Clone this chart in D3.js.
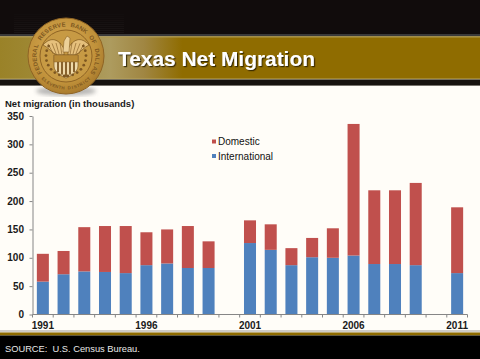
<!DOCTYPE html>
<html>
<head>
<meta charset="utf-8">
<script src="https://cdn.jsdelivr.net/npm/d3@7"></script>
<style>
  html, body { margin: 0; padding: 0; background: #fffdf8; }
  svg { display: block; }
  text { font-family: "Liberation Sans", Arial, sans-serif; }
</style>
</head>
<body>
<div id="chart"></div>
<script>
// Values, thousands of people
const years = d3.range(1991, 2012);
const international = [58, 71, 76, 75, 73, 87, 90, 82, 82, null, 126, 114, 87, 101, 100, 104, 89, 89, 87, null, 73];
const domestic = [49, 41, 78, 81, 83, 58, 60, 74, 47, null, 40, 45, 30, 34, 52, 232, 130, 130, 145, null, 116];
const yTicks = [0, 50, 100, 150, 200, 250, 300, 350];
const xLabels = [1991, 1996, 2001, 2006, 2011];
const seriesNames = ["Domestic", "International"];
const seriesColors = ["#c0504d", "#4f81bd"];
const sealTop = "FEDERAL RESERVE BANK OF DALLAS";
const sealBottom = "ELEVENTH DISTRICT";

const width = 480, height = 359;
const margin = { top: 116, right: 12.5, bottom: 44.5, left: 32.5 };

const svg = d3.select("#chart").append("svg")
  .attr("width", width)
  .attr("height", height);

const defs = svg.append("defs");

// Gold band fades lighter behind the seal
const bandGrad = defs.append("linearGradient").attr("id", "bandGrad");
[[0, "#9a8228"], [0.1, "#a08a38"], [0.23, "#ad9b5e"], [0.3, "#a08642"], [0.38, "#8f6c00"], [1, "#8f6c00"]].forEach(s =>
  bandGrad.append("stop").attr("offset", s[0]).attr("stop-color", s[1]));

const sealGrad = defs.append("radialGradient").attr("id", "sealGrad")
  .attr("cx", "45%").attr("cy", "40%").attr("r", "70%");
[[0, "#d9ab55"], [0.65, "#c0913a"], [1, "#9a6c24"]].forEach(s =>
  sealGrad.append("stop").attr("offset", s[0]).attr("stop-color", s[1]));

const shadow = defs.append("filter").attr("id", "titleShadow")
  .attr("x", "-5%").attr("y", "-20%").attr("width", "110%").attr("height", "140%");
shadow.append("feDropShadow").attr("dx", 1.2).attr("dy", 1.2).attr("stdDeviation", 0.7)
  .attr("flood-color", "#2a2000").attr("flood-opacity", 0.85);

const sealBlur = defs.append("filter").attr("id", "sealBlur");
sealBlur.append("feGaussianBlur").attr("stdDeviation", 2);

const soft = defs.append("filter").attr("id", "soft");
soft.append("feGaussianBlur").attr("stdDeviation", 0.35);

// Page furniture
const header = svg.append("g");
header.append("rect").attr("width", width).attr("height", 34).attr("fill", "#110c0c");
header.selectAll(".stripe").data(d3.range(12, 34, 2)).enter().append("rect")
  .attr("x", 14).attr("y", d => d).attr("width", 110).attr("height", 1)
  .attr("fill", "#2a2626").attr("opacity", d => (d - 10) / 60);
header.append("rect").attr("y", 34).attr("width", width).attr("height", 2.5).attr("fill", "#3a3a3a");
header.append("rect").attr("y", 36.5).attr("width", width).attr("height", 42.5).attr("fill", "url(#bandGrad)");
header.append("rect").attr("y", 36.5).attr("width", width).attr("height", 1).attr("fill", "#b09a4c");
header.append("rect").attr("y", 78.5).attr("width", width).attr("height", 1).attr("fill", "#b8a460");
header.append("rect").attr("y", 79.5).attr("width", width).attr("height", 5.5).attr("fill", "#17130f");
header.append("rect").attr("y", 85).attr("width", width).attr("height", 1).attr("fill", "#77736c");

// Seal
const seal = svg.append("g").attr("transform", "translate(66,56)");
seal.append("ellipse").attr("cy", 35).attr("rx", 30).attr("ry", 5)
  .attr("fill", "#888").attr("opacity", 0.6).attr("filter", "url(#sealBlur)");
seal.append("circle").attr("r", 38).attr("fill", "url(#sealGrad)").attr("stroke", "#8f6424");
seal.append("circle").attr("r", 26).attr("fill", "#c79a44").attr("stroke", "#8f6424").attr("stroke-width", 1);

// Lettering round the rim, one glyph at a time
const topChars = sealTop.split("");
const bottomChars = sealBottom.split("");
const rim = seal.append("g").attr("font-size", 6).attr("fill", "#7d5720").attr("font-weight", "bold");
rim.selectAll(".top").data(topChars).enter().append("text")
  .attr("text-anchor", "middle")
  .attr("transform", (d, i) => `rotate(${(i - (topChars.length - 1) / 2) * 8.4}) translate(0,-29.5)`)
  .text(d => d);
rim.selectAll(".bottom").data(bottomChars).enter().append("text")
  .attr("text-anchor", "middle")
  .attr("font-size", 4.4)
  .attr("transform", (d, i) => `rotate(${(i - (bottomChars.length - 1) / 2) * -5.6}) translate(0,33.5)`)
  .text(d => d);

// wings, shield, wreath
const emblem = seal.append("g").attr("filter", "url(#soft)");
const line = "#7d5720";
emblem.append("path").attr("d", "M-2,-7C-7,-17-15,-20-23,-11C-18,-9-14,-3-9,-1L-2,-1Z").attr("fill", "#e6c07c").attr("stroke", line).attr("stroke-width", 0.7);
emblem.append("path").attr("d", "M2,-7C7,-17,15,-20,23,-11C18,-9,14,-3,9,-1L2,-1Z").attr("fill", "#e6c07c").attr("stroke", line).attr("stroke-width", 0.7);
emblem.selectAll(".feather").data([-18, -14, -10, -6, 6, 10, 14, 18]).enter().append("line")
  .attr("x1", d => d).attr("y1", d => -14 + Math.abs(d) * 0.1)
  .attr("x2", d => d * 0.7).attr("y2", -2)
  .attr("stroke", line).attr("stroke-width", 0.6);
emblem.append("path").attr("d", "M-3,-4L-2,-15L1,-20L4,-18L3,-4Z").attr("fill", "#ecd098").attr("stroke", line).attr("stroke-width", 0.5);
emblem.append("path").attr("d", "M-12,-1H12V10C12,16,5,20,0,22C-5,20,-12,16,-12,10Z").attr("fill", "#efd9a8").attr("stroke", line).attr("stroke-width", 0.7);
emblem.append("rect").attr("x", -12).attr("y", -1).attr("width", 24).attr("height", 7).attr("fill", "#b98a36").attr("stroke", line).attr("stroke-width", 0.4);
emblem.selectAll(".bar").data([-8, -4, 0, 4, 8]).enter().append("rect")
  .attr("x", d => d - 0.9).attr("y", 6).attr("width", 1.8).attr("height", d => 15 - Math.abs(d) * 0.6)
  .attr("fill", line);
emblem.selectAll(".leaf").data(d3.range(-1, 1.01, 0.25).flatMap(a => [a + 2.05, -a - 2.05])).enter().append("circle")
  .attr("cx", d => 20 * Math.sin(d)).attr("cy", d => -20 * Math.cos(d)).attr("r", 1.4)
  .attr("fill", line);

svg.append("text").attr("x", 118).attr("y", 66)
  .attr("font-size", 20.9).attr("font-weight", "bold").attr("fill", "#fff")
  .attr("filter", "url(#titleShadow)")
  .text("Texas Net Migration");

// Footer
svg.append("rect").attr("y", 330).attr("width", width).attr("height", 2.5).attr("fill", "#cfccc6");
svg.append("rect").attr("y", 332.5).attr("width", width).attr("height", 3).attr("fill", "#8f6c00");
svg.append("rect").attr("y", 335.5).attr("width", width).attr("height", 23.5).attr("fill", "#000");
svg.append("text").attr("x", 5).attr("y", 352)
  .attr("font-size", 9.3).attr("fill", "#e8e8e8")
  .attr("xml:space", "preserve")
  .text("SOURCE:  U.S. Census Bureau.");

// Chart
const x = d3.scaleBand()
  .domain(years)
  .range([margin.left, width - margin.right])
  .paddingInner(0.42)
  .paddingOuter(0.21);

const y = d3.scaleLinear()
  .domain([0, 350])
  .range([height - margin.bottom, margin.top]);

const stack = d3.stack().keys(["international", "domestic"]);
const rows = years.map((yr, i) => ({ year: yr, international: international[i] || 0, domestic: domestic[i] || 0 }));
const layers = stack(rows);
const fillByKey = { international: seriesColors[1], domestic: seriesColors[0] };

svg.append("g").selectAll("g").data(layers).enter().append("g")
  .attr("fill", d => fillByKey[d.key])
  .selectAll("rect").data(d => d).enter().append("rect")
  .attr("x", d => x(d.data.year))
  .attr("y", d => y(d[1]))
  .attr("width", x.bandwidth())
  .attr("height", d => y(d[0]) - y(d[1]));

// Axes
const yAxis = svg.append("g")
  .attr("transform", `translate(${margin.left},0)`)
  .call(d3.axisLeft(y).tickValues(yTicks).tickSize(3).tickSizeOuter(0).tickPadding(5.5));

const step = x.step();
const edges = d3.range(0, years.length + 1).map(i => margin.left + i * step);
const xAxis = svg.append("g").attr("transform", `translate(0,${y(0)})`);
xAxis.append("line").attr("x1", margin.left).attr("x2", width - margin.right).attr("class", "ax");
xAxis.selectAll(".tk").data(edges).enter().append("line")
  .attr("class", "ax")
  .attr("x1", d => d).attr("x2", d => d).attr("y1", 0).attr("y2", 3);
xAxis.selectAll(".lab").data(xLabels).enter().append("text")
  .attr("x", d => x(d) + x.bandwidth() / 2)
  .attr("y", 14.5)
  .attr("text-anchor", "middle")
  .attr("font-size", 10)
  .attr("font-weight", "bold")
  .attr("fill", "#1a1a1a")
  .text(d => d);

svg.selectAll(".ax, .domain, .tick line").attr("stroke", "#868686").attr("stroke-width", 1);
yAxis.selectAll("text").attr("font-size", 10).attr("font-weight", "bold").attr("fill", "#1a1a1a");

svg.append("text").attr("x", 5).attr("y", 107)
  .attr("font-size", 9.5).attr("font-weight", "bold").attr("fill", "#1a1a1a")
  .text("Net migration (in thousands)");

// Legend
const legend = svg.append("g").selectAll("g").data(seriesNames).enter().append("g")
  .attr("transform", (d, i) => `translate(212,${141.5 + i * 14.5})`);
legend.append("rect").attr("y", -2).attr("width", 4).attr("height", 4).attr("fill", (d, i) => seriesColors[i]);
legend.append("text").attr("x", 6).attr("y", 3.5).attr("font-size", 10).attr("fill", "#111").text(d => d);
</script>
</body>
</html>
